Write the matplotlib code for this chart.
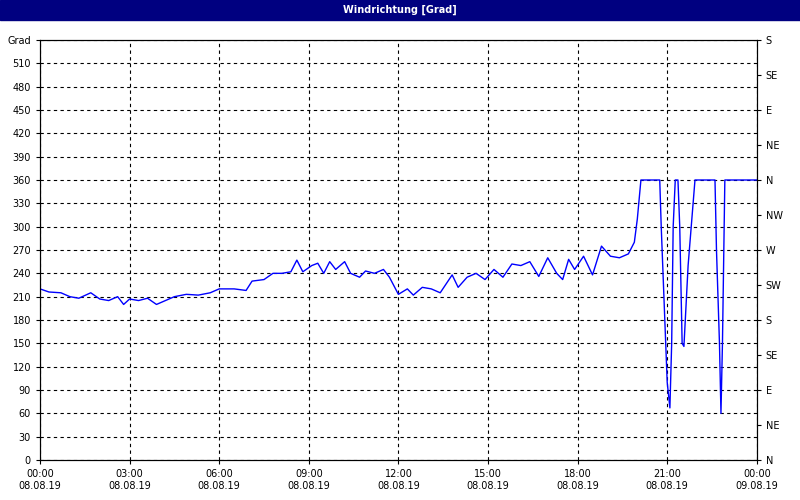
import matplotlib
matplotlib.use("Agg")
import matplotlib.pyplot as plt
import matplotlib.patches as mpatches

hours = [0,0.3,0.7,1.0,1.3,1.7,2.0,2.3,2.6,2.8,3.0,3.3,3.6,3.9,4.2,4.5,4.9,5.3,5.7,6.0,6.5,6.9,7.1,7.5,7.8,8.1,8.4,8.6,8.8,9.1,9.3,9.5,9.7,9.9,10.2,10.4,10.7,10.9,11.2,11.5,11.7,12.0,12.3,12.5,12.8,13.1,13.4,13.8,14.0,14.3,14.6,14.9,15.2,15.5,15.8,16.1,16.4,16.7,17.0,17.3,17.5,17.7,17.9,18.2,18.5,18.8,19.1,19.4,19.7,19.9,20.0,20.12,20.75,20.8,20.9,21.0,21.09,21.15,21.2,21.27,21.36,21.42,21.5,21.56,21.7,21.93,22.6,22.65,22.75,22.8,22.85,22.93,24.0]
values = [220,216,215,210,208,215,207,205,210,200,207,205,208,200,205,210,213,212,215,220,220,218,230,232,240,240,242,257,242,250,253,240,255,245,255,240,235,243,240,245,235,213,220,212,222,220,215,238,222,235,240,232,245,235,252,250,255,236,260,240,232,258,245,262,238,275,262,260,265,280,310,360,360,300,200,100,67,150,300,360,360,300,150,146,250,360,360,270,150,60,150,360,360]

yticks = list(range(0, 541, 30))
dir_labels = ["N","NE","E","SE","S","SW","W","NW","N","NE","E","SE","S"]
xtick_labels = ["00:00\n08.08.19","03:00\n08.08.19","06:00\n08.08.19","09:00\n08.08.19","12:00\n08.08.19","15:00\n08.08.19","18:00\n08.08.19","21:00\n08.08.19","00:00\n09.08.19"]

fig = plt.figure(figsize=(8,5), dpi=100)
fig.patches.append(mpatches.Rectangle((0,0.96),1,0.04,transform=fig.transFigure,color="#000080",zorder=0))
fig.text(0.5,0.98,"Windrichtung [Grad]",color="white",ha="center",va="center",fontsize=7,fontweight="bold")
ax = fig.add_axes([0.05,0.08,0.896,0.84])
ax.plot(hours, values, color="#0000ff", lw=1)
ax.set_xlim(0,24); ax.set_ylim(0,540)
ax.set_xticks(range(0,25,3)); ax.set_xticklabels(xtick_labels, fontsize=7)
ax.set_yticks(yticks)
ax.set_yticklabels([str(v) if v < 540 else "Grad" for v in yticks], fontsize=7)
ax.grid(True, color="black", ls=(0,(3,3)), lw=0.8)
ax.tick_params(length=3)
ax2 = ax.twinx()
ax2.set_ylim(0,540)
ax2.set_yticks(list(range(0,541,45))); ax2.set_yticklabels(dir_labels, fontsize=7)
ax2.tick_params(length=3)
fig.savefig("out.png")
